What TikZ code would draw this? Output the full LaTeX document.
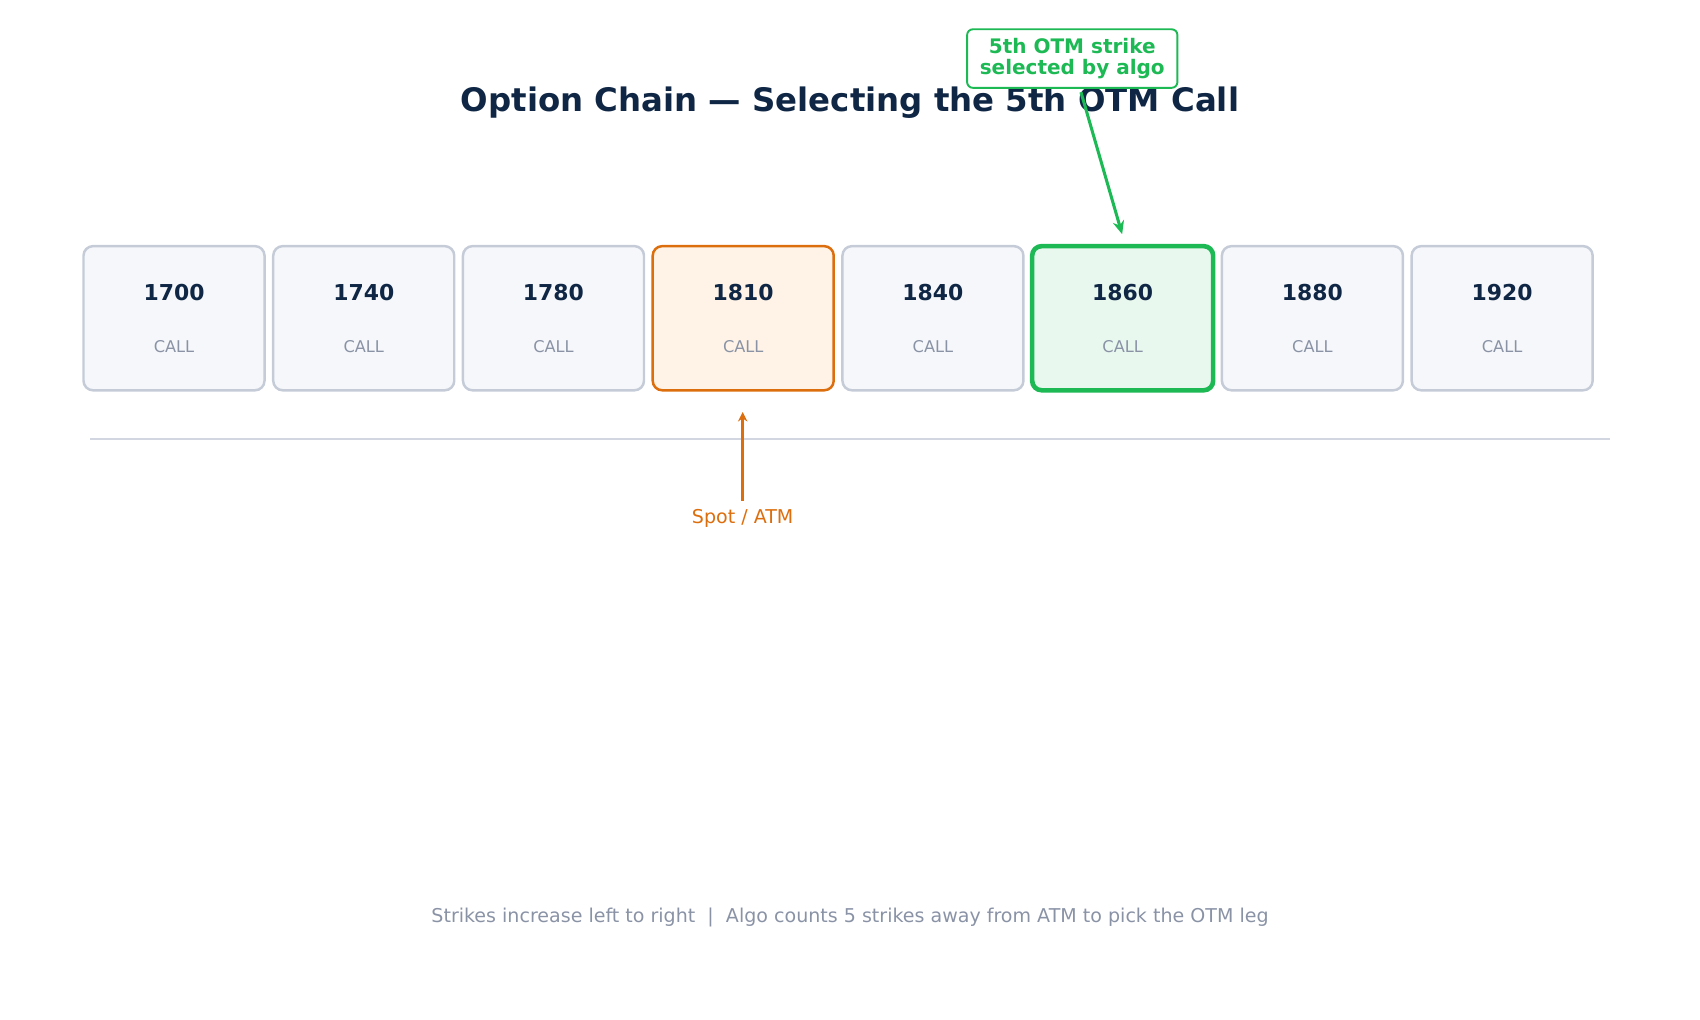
\documentclass[tikz,border=0pt]{standalone}
\usepackage{fontspec}
\setmainfont{DejaVu Sans}
\usetikzlibrary{arrows.meta}
\definecolor{navy}{HTML}{0F2644}
\definecolor{greyt}{HTML}{8A93A6}
\definecolor{boxfill}{HTML}{F5F7FA}
\definecolor{boxline}{HTML}{C5CCD8}
\definecolor{orng}{HTML}{DD6E0E}
\definecolor{orfill}{HTML}{FEF3E6}
\definecolor{grn}{HTML}{1DB954}
\definecolor{grfill}{HTML}{E8F8EF}
\begin{document}
\begin{tikzpicture}[x=0.02cm,y=-0.02cm,
 strike/.style={draw=boxline,fill=boxfill,line width=1.3pt,rounded corners=5pt,minimum width=3.34cm,minimum height=2.66cm,inner sep=0pt},
 st0/.style={},st1/.style={},st2/.style={},st4/.style={},st6/.style={},st7/.style={},
 st3/.style={draw=orng,fill=orfill},
 st5/.style={draw=grn,fill=grfill,line width=2.4pt},
 num/.style={font=\bfseries\fontsize{11.5}{13}\selectfont,text=navy},
 lbl/.style={font=\fontsize{8.5}{10}\selectfont,text=greyt}]
\useasboundingbox (0,0) rectangle (1568,940);
\node[font=\bfseries\fontsize{17}{20}\selectfont,text=navy] (title) at (784,95) {Option Chain — Selecting the 5th OTM Call};
\foreach \s/\i in {1700/0,1740/1,1780/2,1810/3,1840/4,1860/5,1880/6,1920/7}{
  \node[strike,st\i] (b\i) at ({160.5+175*\i},293.5) {};
  \node[num] (n\i) at ({160.5+175*\i},270) {\s};
  \node[lbl] (c\i) at ({160.5+175*\i},320) {CALL};
}
\coordinate (l1) at (83,405); \coordinate (l2) at (1485,405);
\draw[boxline!80,line width=1pt] (l1) -- (l2);
\node[font=\fontsize{10}{12}\selectfont,text=orng] (spot) at (685,478) {Spot / ATM};
\coordinate (sa) at (685,462); \coordinate (se) at (685,380);
\draw[orng,line width=1.3pt,-{Stealth[length=5pt,width=5pt]}] (sa) -- (se);
\node[draw=grn,fill=white,line width=1pt,rounded corners=3pt,align=center,text=grn,font=\bfseries\fontsize{10.5}{11.5}\selectfont,minimum width=3.88cm,minimum height=1.08cm,inner sep=1pt] (call) at (989,54) {5th OTM strike\\selected by algo};
\coordinate (ca) at (997,85); \coordinate (ce) at (1035,216);
\draw[grn,line width=1.6pt,-{Stealth[length=7pt,width=6pt]}] (ca) -- (ce);
\node[font=\fontsize{10}{12}\selectfont,text=greyt] (foot) at (784,846) {Strikes increase left to right \ | \ Algo counts 5 strikes away from ATM to pick the OTM leg};
\end{tikzpicture}
\end{document}
